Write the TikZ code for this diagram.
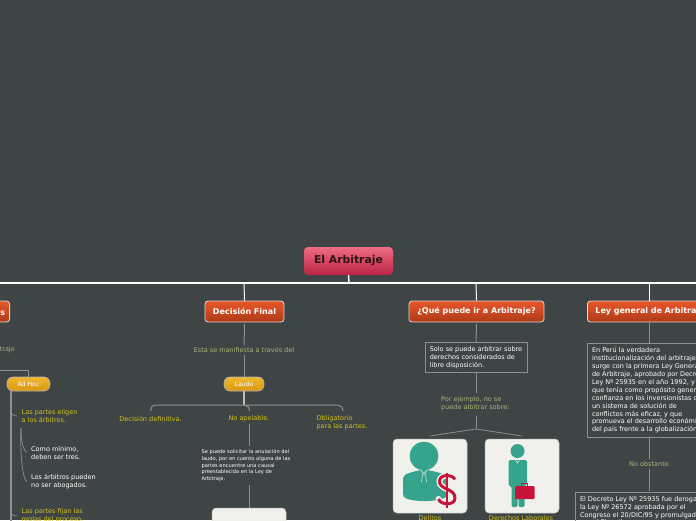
\documentclass[tikz,border=0pt]{standalone}
\usepackage{fontspec}
\setmainfont{DejaVu Sans}
\definecolor{bgc}{HTML}{3F4545}
\definecolor{yel}{HTML}{D2C11C}
\definecolor{grn}{HTML}{A9B47C}
\definecolor{linec}{HTML}{8C9090}
\definecolor{teal1}{HTML}{36A48D}
\definecolor{red1}{HTML}{C8143C}
\definecolor{paper}{HTML}{F0F1EC}
\tikzset{
  x=1pt,y=-1pt,
  conn/.style={draw=linec,line width=1pt},
  trunk/.style={draw=white,line width=1.5pt},
  topic/.style={draw=white!85!black,line width=0.8pt,rounded corners=3pt,top color=orange1,bottom color=orange2,text=white,font=\fontsize{8}{10}\selectfont\bfseries,minimum height=21pt,inner sep=0pt},
  capsule/.style={draw=white!70!black,line width=0.6pt,rounded corners=6pt,top color=amber1,bottom color=amber2,text=white,font=\fontsize{6.2}{8}\selectfont,minimum height=14pt,inner sep=0pt},
  ylab/.style={text=yel,font=\fontsize{6.5}{8.1}\selectfont,align=left,inner sep=2pt},
  glab/.style={text=grn,font=\fontsize{6.5}{8.1}\selectfont,align=left,inner sep=2pt},
  wlab/.style={text=white,font=\fontsize{6.5}{8.1}\selectfont,align=left,inner sep=2pt},
  tiny1/.style={text=white,font=\fontsize{5.1}{6.6}\selectfont,align=left,inner sep=2pt},
  framed1/.style={draw=linec,line width=1pt,text=white,font=\fontsize{6.5}{7.95}\selectfont,align=left,inner sep=0pt},
  iconbox/.style={fill=paper,draw=white!75!black,line width=0.5pt,rounded corners=4pt,minimum width=74pt,minimum height=74pt,inner sep=0pt},
}
\definecolor{orange1}{HTML}{E8572A}
\definecolor{orange2}{HTML}{AE3A19}
\definecolor{amber1}{HTML}{F0B731}
\definecolor{amber2}{HTML}{D8980F}
\definecolor{pink1}{HTML}{EE6C84}
\definecolor{pink2}{HTML}{BC2345}
\definecolor{rootink}{HTML}{2E1414}
\begin{document}
\begin{tikzpicture}
\path[use as bounding box] (0,0) rectangle (696,520);
\clip (0,0) rectangle (696,520);
\fill[bgc] (0,0) rectangle (696,520);

% root and trunk
\node[draw=none,rounded corners=4pt,top color=pink1,bottom color=pink2,minimum width=89pt,minimum height=28pt,inner sep=0pt,text=rootink,font=\fontsize{10.8}{12}\selectfont\bfseries] (root) at (348.5,261) {El Arbitraje};
\coordinate (tl) at (0,283);
\coordinate (tr) at (696,283);
\coordinate (ta) at (244,283);
\coordinate (tb) at (476,283);
\coordinate (tc) at (649,283);
\coordinate (td) at (349,283);
\draw[trunk] (tl) -- (tr);
\draw[trunk] (root.south) -- (td);

% left branch
\node[topic,anchor=east,minimum width=100pt,text width=97pt,align=right] (left) at (10,311.5) {Árbitros\hspace*{3pt}};
\node[glab,anchor=east] (lefttxt) at (17,350) {Tipos de Arbitraje};
\node[capsule,minimum width=43pt] (adhoc) at (28.5,384) {Ad Hoc};
\coordinate (a0) at (0,370);
\draw[conn] (a0) -| (adhoc.north);
\node[ylab,anchor=west] (e1) at (19.5,416.5) {Las partes eligen\\a los árbitros.};
\node[wlab,anchor=west] (e2) at (29,452.5) {Como mínimo,\\deben ser tres.};
\node[wlab,anchor=west] (e3) at (29,481.5) {Los árbitros pueden\\no ser abogados.};
\node[ylab,anchor=west] (e4) at (19.5,515.5) {Las partes fijan las\\reglas del proceso.};
\coordinate (v0) at (11,391);
\coordinate (v1) at (11,525);
\coordinate (b1) at (17,416);
\coordinate (b4) at (17,516);
\draw[conn,line width=1.2pt] (v0) -- (v1);
\draw[conn,line width=.7pt] (11,410) .. controls (11.5,415) and (13,416) .. (b1);
\draw[conn,line width=.7pt] (11,510) .. controls (11.5,515) and (13,516) .. (b4);
\coordinate (w0) at (21,428);
\coordinate (w1) at (27,452);
\coordinate (w2) at (27,482);
\draw[conn,line width=.7pt] (w0) .. controls (21,440) and (23,451) .. (w1);
\draw[conn,line width=.7pt] (w0) .. controls (20,450) and (22,478) .. (w2);

% Decision Final
\node[topic,minimum width=79pt] (dec) at (244.5,311.5) {Decisión Final};
\draw[trunk,line width=1pt] (ta) -- (dec.north);
\node[glab] (esta) at (244,350) {Esta se manifiesta a través del};
\node[capsule,minimum width=40pt] (laudo) at (244,384) {Laudo};
\draw[conn] ([yshift=-1.5pt]dec.south) -- (esta);
\draw[conn] (esta) -- (laudo);
\node[ylab] (n1) at (150.5,418.5) {Decisión definitiva.};
\node[ylab] (n2) at (249,418.5) {No apelable.};
\node[ylab] (n3) at (342,422.5) {Obligatorio\\para las partes.};
\coordinate (j) at (244,405);
\draw[draw=white!75!black,line width=1.2pt] (laudo.south) -- (j);
\coordinate (h1) at (150.5,411);
\coordinate (h2) at (249.5,411);
\coordinate (h3) at (343,411);
\draw[conn,line width=1pt] (h1) .. controls (150.5,408) and (152,405) .. (156,405) -- (j) -- (338,405) .. controls (341,405) and (343,408) .. (h3);
\draw[conn,line width=1pt] (j) .. controls (247,405) and (249.5,407) .. (h2);
\node[tiny1] (n4) at (246,465.5) {Se puede solicitar la anulación del\\laudo, por en cuento alguna de las\\partes encuentre una causal\\preestablecida en la Ley de\\Arbitraje.};
\coordinate (nn) at (249,446);
\draw[conn] (n2) -- (nn);
\coordinate (nm) at (249,485);
\node[fill=paper,draw=white!75!black,line width=.5pt,rounded corners=4pt,minimum width=74pt,minimum height=40pt] (imgbox) at (249,528) {};
\draw[conn] (nm) -- (imgbox.north);

% Que puede
\node[topic,minimum width=135pt] (que) at (476.5,311.5) {¿Qué puede ir a Arbitraje?};
\draw[trunk,line width=1pt] (tb) -- (que.north);
\node[framed1,minimum width=102pt,minimum height=30pt] (solo) at (476,357.5) {Solo se puede arbitrar sobre\\derechos considerados de\\libre disposición.};
\draw[conn] ([yshift=-1.5pt]que.south) -- (solo.north);
\node[glab,anchor=west] (por) at (439,403.5) {Por ejemplo, no se\\puede albitrar sobre:};
\coordinate (porc) at (476,393);
\draw[conn] (solo.south) -- (porc);
\coordinate (k0) at (476,416);
\coordinate (k) at (476,429);
\coordinate (k1) at (430,436);
\coordinate (k2) at (522,436);
\draw[conn] (k0) -- (k);
\draw[conn,line width=.8pt] (k1) -- (k) -- (k2);

\node[iconbox] (ib1) at (430,476) {};
\node[iconbox] (ib2) at (522,476) {};
% icon 1: person
\fill[teal1] (424,456) circle (14.3);
\fill[teal1,rounded corners=3pt] (403,476) .. controls (408,473) and (416,471) .. (421,470) -- (427,470) .. controls (433,471) and (441,473) .. (447,476) -- (447,497) .. controls (435,502) and (414,502) .. (403,497) -- cycle;
\draw[paper,line width=.6pt] (421,470) -- (424,474) -- (427,470);
\draw[paper,line width=.5pt] (422.5,474) -- (421.5,482);
\draw[paper,line width=.5pt] (425.5,474) -- (426.5,482);
% dollar sign with a pale halo
\draw[paper,line width=6pt,line cap=round] (455,479.5) .. controls (453,474.5) and (440,473.5) .. (439.5,481) .. controls (439,490) and (455,488) .. (455,498) .. controls (455,506) and (440,505) .. (438.5,499);
\draw[red1,line width=3pt] (455,479.5) .. controls (453,474.5) and (440,473.5) .. (439.5,481) .. controls (439,490) and (455,488) .. (455,498) .. controls (455,506) and (440,505) .. (438.5,499);
\draw[red1,line width=1.4pt] (447,472.5) -- (447,507.5);
% icon 2: person with case
\fill[teal1] (517.5,451) circle (7);
\fill[teal1,rounded corners=1.5pt] (508.5,460) -- (527,460) -- (527,485) -- (524.5,485) -- (524.5,507) -- (518.5,507) -- (518.5,490) -- (517.5,490) -- (517.5,507) -- (511.5,507) -- (511.5,486) -- (508.5,486) -- cycle;
\draw[paper,line width=.5pt] (515.5,460) -- (517.5,463) -- (519.5,460);
\draw[red1,line width=.8pt] (521,486) -- (521,483.5) -- (527.5,483.5) -- (527.5,486);
\fill[red1,rounded corners=1pt] (515,486) rectangle (534.5,499);
\node[ylab,inner sep=0pt] (dl) at (430,518.5) {Delitos};
\node[ylab,inner sep=0pt] (dr) at (521,518.5) {Derechos Laborales};

% Ley general
\node[topic,anchor=west,minimum width=140pt,text width=132pt,align=left,xshift=0pt] (ley) at (587,311.5) {\hspace*{4pt}Ley general de Arbitraje};
\draw[trunk,line width=1pt] (tc) -- (ley.north -| tc);
\node[framed1,anchor=north west,inner xsep=4.5pt,inner ysep=4.2pt] (pe) at (587,342.5) {En Perú la verdadera\\institucionalización del arbitraje\\surge con la primera Ley General\\de Arbitraje, aprobado por Decreto\\Ley Nº 25935 en el año 1992, y\\que tenía como propósito generar\\confianza en los inversionistas con\\un sistema de solución de\\conflictos más eficaz, y que\\promueva el desarrollo económico\\del país frente a la globalización.};
\coordinate (c1) at (649,323);
\coordinate (c2) at (649,342.5);
\draw[conn] (c1) -- (c2);
\node[glab] (no) at (649,464) {No obstante};
\coordinate (c3) at (649,437);
\coordinate (c4) at (649,491);
\draw[conn] (c3) -- (no);
\draw[conn] (no) -- (c4);
\node[framed1,anchor=north west,inner xsep=4.5pt,inner ysep=4.2pt] (dl2) at (575,491.5) {El Decreto Ley Nº 25935 fue derogado por\\la Ley Nº 26572 aprobada por el\\Congreso el 20/DIC/95 y promulgada\\por el Ejecutivo};
\end{tikzpicture}
\end{document}
